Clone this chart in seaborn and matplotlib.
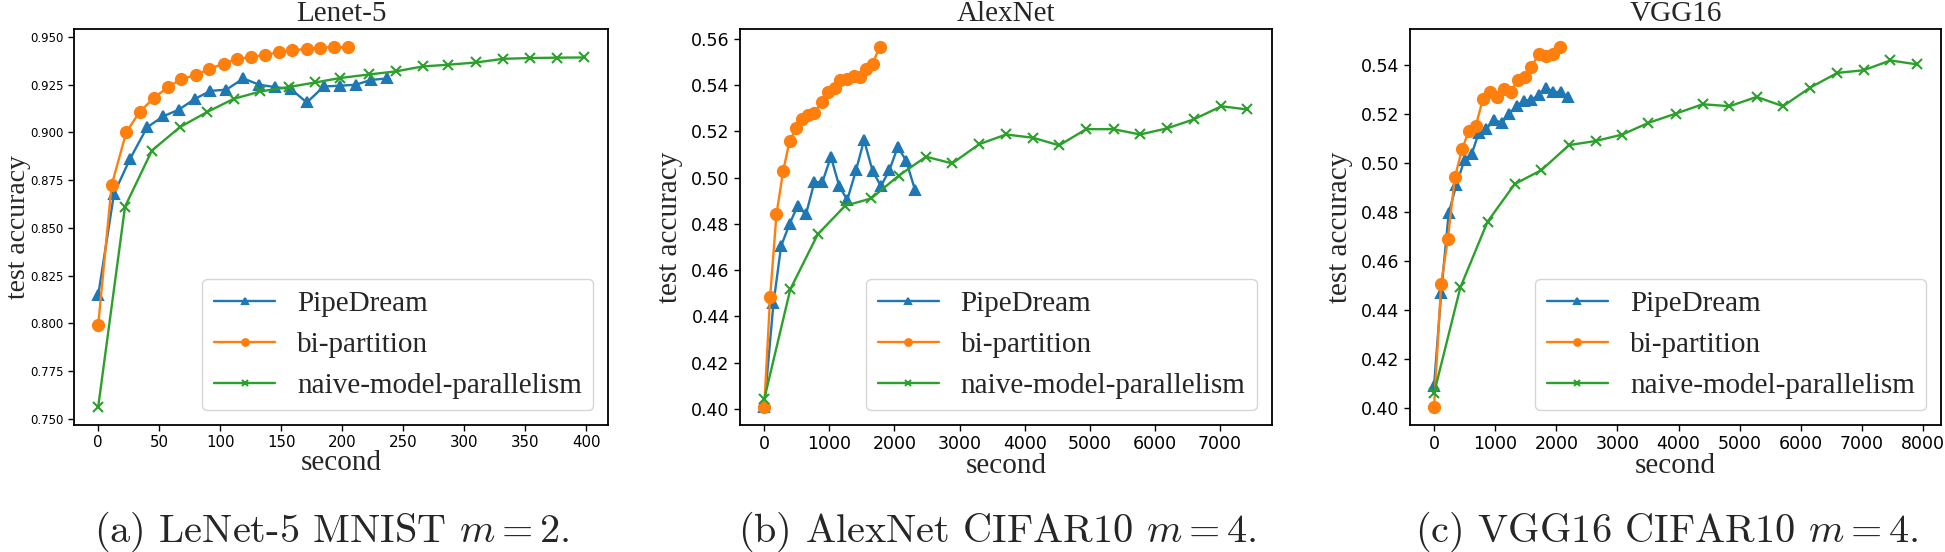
import numpy as np
import pandas as pd
import seaborn as sns
import matplotlib.pyplot as plt

# ---- data ----
series_names = ["PipeDream", "bi-partition", "naive-model-parallelism"]
panel_titles = ["Lenet-5", "AlexNet", "VGG16"]
captions = ["(a) LeNet-5 MNIST $m=2$.", "(b) AlexNet CIFAR10 $m=4$.", "(c) VGG16 CIFAR10 $m=4$."]

# LeNet-5
lenet_pd_t = [0, 13, 26, 40, 53, 66, 79, 92, 105, 119, 132, 145, 158, 171, 185, 198, 211, 224, 237]
lenet_pd_acc = [0.8147, 0.868, 0.886, 0.9026, 0.9084, 0.9119, 0.9175, 0.9218, 0.9224, 0.9283,
                0.925, 0.9238, 0.9227, 0.9157, 0.9241, 0.9245, 0.925, 0.9276, 0.9283]
lenet_bp_t = [0, 11, 23, 34, 46, 57, 68, 80, 91, 103, 114, 125, 137, 148, 159, 171, 182, 193, 205]
lenet_bp_acc = [0.799, 0.8723, 0.9001, 0.9108, 0.9183, 0.9236, 0.9281, 0.930, 0.9334, 0.936,
                0.9386, 0.9395, 0.9407, 0.9421, 0.943, 0.9439, 0.9444, 0.9448, 0.9446]
lenet_nm_t = [0, 22, 44, 67, 89, 111, 133, 156, 178, 198, 222, 244, 266, 287, 310, 332, 354, 376, 398]
lenet_nm_acc = [0.7561, 0.8611, 0.8905, 0.9028, 0.9106, 0.9176, 0.9215, 0.9238, 0.9262, 0.9285,
                0.9304, 0.932, 0.9346, 0.9355, 0.9367, 0.9386, 0.939, 0.9392, 0.9393]

# AlexNet
alex_pd_t = [0, 142, 259, 388, 511, 641, 770, 893, 1023, 1152, 1275, 1410, 1533, 1663, 1792,
             1922, 2051, 2180, 2316]
alex_pd_acc = [0.4009, 0.4457, 0.4704, 0.4799, 0.4877, 0.4841, 0.498, 0.498, 0.509, 0.4963,
               0.4903, 0.5032, 0.5162, 0.5029, 0.4963, 0.5032, 0.5133, 0.5072, 0.4946]
alex_bp_t = [0, 91, 188, 291, 388, 485, 576, 673, 770, 880, 977, 1081, 1171, 1275, 1372,
             1469, 1559, 1663, 1773]
alex_bp_acc = [0.4009, 0.4486, 0.4842, 0.5029, 0.5156, 0.5212, 0.5252, 0.5269, 0.5277, 0.5327,
               0.537, 0.5387, 0.5423, 0.5427, 0.5438, 0.5435, 0.5471, 0.5492, 0.5564]
alex_nm_t = [0, 401, 822, 1242, 1643, 2064, 2485, 2886, 3300, 3714, 4128, 4529, 4943, 5364,
             5771, 6179, 6593, 7020, 7421]
alex_nm_acc = [0.4043, 0.4518, 0.4755, 0.4878, 0.491, 0.5008, 0.509, 0.5061, 0.5144, 0.5186,
               0.5172, 0.5139, 0.5209, 0.5209, 0.5186, 0.5212, 0.5251, 0.5308, 0.5294]

# VGG16
vgg_pd_t = [0, 116, 239, 362, 499, 615, 731, 854, 978, 1108, 1231, 1354, 1470, 1593, 1710,
            1833, 1949, 2072, 2188]
vgg_pd_acc = [0.4091, 0.447, 0.4795, 0.491, 0.5015, 0.5037, 0.5124, 0.5138, 0.5178, 0.5165,
              0.5203, 0.5233, 0.5255, 0.526, 0.5278, 0.5309, 0.5291, 0.5291, 0.5271]
vgg_bp_t = [0, 116, 226, 342, 458, 568, 684, 800, 909, 1026, 1142, 1251, 1368, 1484, 1593,
            1716, 1826, 1949, 2065]
vgg_bp_acc = [0.4004, 0.4507, 0.4692, 0.4945, 0.5057, 0.5132, 0.5154, 0.5263, 0.529, 0.5271,
              0.5305, 0.5291, 0.5339, 0.5352, 0.5393, 0.5448, 0.5437, 0.5445, 0.5475]
vgg_nm_t = [0, 431, 875, 1320, 1757, 2209, 2646, 3077, 3508, 3959, 4396, 4834, 5279, 5710,
            6154, 6599, 7030, 7468, 7899]
vgg_nm_acc = [0.4061, 0.4493, 0.4761, 0.4915, 0.4972, 0.5074, 0.5091, 0.5117, 0.5165, 0.5203,
              0.5241, 0.5233, 0.5271, 0.5233, 0.5309, 0.5369, 0.538, 0.542, 0.5404]

lenet_yticks = [0.750, 0.775, 0.800, 0.825, 0.850, 0.875, 0.900, 0.925, 0.950]
lenet_xticks = [0, 50, 100, 150, 200, 250, 300, 350, 400]
alex_yticks = [0.40, 0.42, 0.44, 0.46, 0.48, 0.50, 0.52, 0.54, 0.56]
alex_xticks = [0, 1000, 2000, 3000, 4000, 5000, 6000, 7000]
vgg_yticks = [0.40, 0.42, 0.44, 0.46, 0.48, 0.50, 0.52, 0.54]
vgg_xticks = [0, 1000, 2000, 3000, 4000, 5000, 6000, 7000, 8000]

# ---- style ----
sns.set_style("ticks")
plt.rcParams['font.family'] = ['DejaVu Sans']
plt.rcParams['mathtext.fontset'] = 'cm'
plt.rcParams['axes.edgecolor'] = 'black'
plt.rcParams['xtick.color'] = 'black'
plt.rcParams['ytick.color'] = 'black'

colors = ["#1f77b4", "#ff7f0e", "#2ca02c"]
markers = ["^", "o", "x"]
serif = "Liberation Serif"

fig = plt.figure(figsize=(19.45, 5.52), dpi=100)
positions = [[0.0380, 0.2301, 0.2746, 0.7174],
             [0.3805, 0.2301, 0.2733, 0.7174],
             [0.7249, 0.2301, 0.2730, 0.7174]]
caption_x = [332 / 1945, 997 / 1945, 1667 / 1945]

panels = [
    ([(lenet_pd_t, lenet_pd_acc), (lenet_bp_t, lenet_bp_acc), (lenet_nm_t, lenet_nm_acc)],
     lenet_xticks, lenet_yticks, "%.3f", 8.5, 10.8),
    ([(alex_pd_t, alex_pd_acc), (alex_bp_t, alex_bp_acc), (alex_nm_t, alex_nm_acc)],
     alex_xticks, alex_yticks, "%.2f", 12.5, 12.5),
    ([(vgg_pd_t, vgg_pd_acc), (vgg_bp_t, vgg_bp_acc), (vgg_nm_t, vgg_nm_acc)],
     vgg_xticks, vgg_yticks, "%.2f", 12.5, 12.5),
]

for i, (curves, xt, yt, yfmt, ysize, xsize) in enumerate(panels):
    ax = fig.add_axes(positions[i])
    for (t, acc), name, c, m in zip(curves, series_names, colors, markers):
        df = pd.DataFrame({"second": t, "acc": acc})
        sns.lineplot(data=df, x="second", y="acc", ax=ax, color=c, marker=m,
                     markersize=8 if m == "o" else 7.5, markeredgecolor=c,
                     markeredgewidth=1.5, linewidth=1.7, label=name)
    ax.set_xticks(xt)
    ax.set_yticks(yt)
    ax.set_yticklabels([yfmt % v for v in yt], fontsize=ysize)
    ax.set_xticklabels([str(v) for v in xt], fontsize=xsize)
    for s in ax.spines.values():
        s.set_linewidth(1.3)
    ax.tick_params(width=1.0, length=4)
    ax.set_title(panel_titles[i], fontsize=21, family=serif, pad=6)
    ax.set_xlabel("second", fontsize=21, family=serif, labelpad=0)
    if i == 0:
        ax.set_ylabel("test accuracy", fontsize=20, family=serif)
        ax.yaxis.set_label_coords(-0.080, 0.5)
    else:
        ax.set_ylabel("test accuracy", fontsize=21, family=serif, labelpad=6)
    ax.legend(loc="lower right", prop={"family": serif, "size": 21}, markerscale=0.6,
              labelspacing=0.5, handlelength=2.1, borderpad=0.4, handletextpad=0.75)
    fig.text(caption_x[i], 0.0187, captions[i], ha="center", va="baseline",
             fontsize=29, family="cmr10")

plt.savefig("out.png", dpi=100)
